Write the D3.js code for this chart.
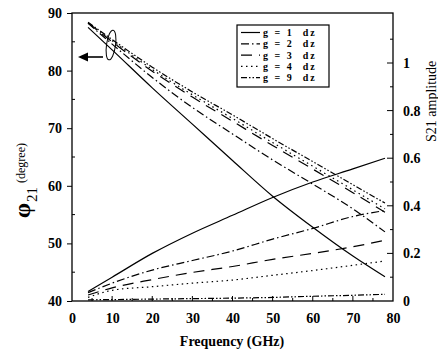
<!DOCTYPE html>
<html>
<head>
<meta charset="utf-8">
<script src="https://cdn.jsdelivr.net/npm/d3@7"></script>
<style>
  body { margin: 0; background: #fff; }
  svg { display: block; }
  text { font-family: "Liberation Serif", "Times New Roman", "DejaVu Serif", serif; fill: #000; }
</style>
</head>
<body>
<svg id="chart" width="438" height="354"></svg>
<script>
// Data.
const freq = [4, 10, 20, 30, 40, 50, 60, 70, 78];
const gapLabels = ["g = 1  dz", "g = 2  dz", "g = 3  dz", "g = 4  dz", "g = 9  dz"];

// Phase of S21 (left axis, degree).
const phaseG1 = [87.5, 83.6, 77.0, 70.7, 64.4, 58.2, 52.8, 47.8, 44.2];
const phaseG2 = [88.2, 84.6, 78.8, 73.6, 69.0, 64.5, 60.3, 56.0, 52.0];
const phaseG3 = [88.3, 85.0, 79.9, 75.4, 71.2, 67.0, 62.9, 58.8, 55.4];
const phaseG4 = [88.3, 85.2, 80.2, 75.8, 71.7, 67.5, 63.4, 59.3, 56.0];
const phaseG9 = [88.4, 85.4, 80.6, 76.3, 72.3, 68.2, 64.2, 60.2, 57.0];

// S21 amplitude (right axis).
const ampG1 = [0.04, 0.10, 0.20, 0.285, 0.36, 0.435, 0.50, 0.555, 0.60];
const ampG2 = [0.035, 0.075, 0.13, 0.17, 0.21, 0.26, 0.305, 0.355, 0.38];
const ampG3 = [0.025, 0.055, 0.09, 0.12, 0.145, 0.175, 0.20, 0.228, 0.255];
const ampG4 = [0.015, 0.045, 0.06, 0.075, 0.088, 0.108, 0.128, 0.15, 0.168];
const ampG9 = [0.005, 0.006, 0.008, 0.01, 0.012, 0.015, 0.02, 0.024, 0.028];

const xTicks = [0, 10, 20, 30, 40, 50, 60, 70, 80];
const phaseTicks = [40, 50, 60, 70, 80, 90];
const ampTicks = [0, 0.2, 0.4, 0.6, 0.8, 1];

// Line styles per gap.
const dashes = [null, "8,3,1.5,3", "11,7", "1.5,3.5", "6,2,1.5,2,1.5,2"];

document.addEventListener("DOMContentLoaded", () => {

    const svg = d3.select("#chart");
    const left = 72, right = 393, top = 13, bottom = 301;
    const serif = "Liberation Serif";

    const x = d3.scaleLinear().domain([0, 80]).range([left, right]);
    const yPhase = d3.scaleLinear().domain([40, 90]).range([bottom, top]);
    const yAmp = d3.scaleLinear().domain([0, 1]).range([bottom, 63]);

    const phases = [phaseG1, phaseG2, phaseG3, phaseG4, phaseG9];
    const amps = [ampG1, ampG2, ampG3, ampG4, ampG9];

    const phaseLine = d3.line()
        .x((d, i) => x(freq[i]))
        .y((d) => yPhase(d))
        .curve(d3.curveMonotoneX);
    const ampLine = d3.line()
        .x((d, i) => x(freq[i]))
        .y((d) => yAmp(d))
        .curve(d3.curveMonotoneX);

    // Frame.
    svg.append("rect")
        .attr("x", left).attr("y", top)
        .attr("width", right - left).attr("height", bottom - top)
        .attr("fill", "none").attr("stroke", "#000").attr("stroke-width", 1.3);

    // Bottom axis.
    const xAxis = svg.append("g").attr("transform", `translate(0,${bottom})`)
        .call(d3.axisBottom(x).tickValues(xTicks).tickSize(0).tickPadding(12).tickFormat(d3.format("d")));
    xAxis.attr("font-family", serif);
    xAxis.select(".domain").remove();
    xAxis.selectAll("text").attr("font-size", 14).attr("font-weight", "bold");
    svg.append("g").selectAll("line")
        .data(d3.range(5, 80, 5))
        .enter().append("line")
        .attr("x1", (d) => x(d)).attr("x2", (d) => x(d))
        .attr("y1", bottom).attr("y2", (d) => bottom - (d % 10 === 0 ? 5 : 3))
        .attr("stroke", "#000");

    // Left axis.
    const yAxisL = svg.append("g").attr("transform", `translate(${left},0)`)
        .call(d3.axisLeft(yPhase).tickValues(phaseTicks).tickSize(5).tickPadding(5));
    yAxisL.attr("font-family", serif);
    yAxisL.select(".domain").remove();
    yAxisL.selectAll("text").attr("font-size", 14).attr("font-weight", "bold");
    svg.append("g").selectAll("line")
        .data(d3.range(45, 90, 10))
        .enter().append("line")
        .attr("x1", left).attr("x2", left + 3)
        .attr("y1", (d) => yPhase(d)).attr("y2", (d) => yPhase(d))
        .attr("stroke", "#000");

    // Right axis.
    const yAxisR = svg.append("g").attr("transform", `translate(${right},0)`)
        .call(d3.axisRight(yAmp).tickValues(ampTicks).tickSize(0).tickPadding(10)
            .tickFormat((d) => d === 0 ? "0" : d === 1 ? "1" : d3.format(".1f")(d)));
    yAxisR.attr("font-family", serif);
    yAxisR.select(".domain").remove();
    yAxisR.selectAll("text").attr("font-size", 14).attr("font-weight", "bold");
    svg.append("g").selectAll("line")
        .data(d3.range(1, 12))
        .enter().append("line")
        .attr("x1", right).attr("x2", (d) => right - (d % 2 === 0 ? 6 : 3))
        .attr("y1", (d) => yAmp(d / 10)).attr("y2", (d) => yAmp(d / 10))
        .attr("stroke", "#000");

    // Curves.
    phases.forEach((p, i) => {
        svg.append("path")
            .datum(p)
            .attr("d", phaseLine)
            .attr("fill", "none")
            .attr("stroke", "#000")
            .attr("stroke-width", 1.2)
            .attr("stroke-dasharray", dashes[i]);
    });
    amps.forEach((a, i) => {
        svg.append("path")
            .datum(a)
            .attr("d", ampLine)
            .attr("fill", "none")
            .attr("stroke", "#000")
            .attr("stroke-width", 1.2)
            .attr("stroke-dasharray", dashes[i]);
    });

    // Ellipse around the phase curves, and the arrow to the left axis.
    svg.append("ellipse")
        .attr("cx", 111).attr("cy", 45).attr("rx", 4.5).attr("ry", 15)
        .attr("transform", "rotate(8,111,45)")
        .attr("fill", "none").attr("stroke", "#000").attr("stroke-width", 1);
    svg.append("line")
        .attr("x1", 103).attr("y1", 57).attr("x2", 86).attr("y2", 57)
        .attr("stroke", "#000").attr("stroke-width", 1.6);
    svg.append("path")
        .attr("d", "M78,57 L88,52.5 L88,61.5 Z")
        .attr("fill", "#000");

    // Legend.
    const legend = svg.append("g");
    legend.append("rect")
        .attr("x", 237).attr("y", 25).attr("width", 92).attr("height", 62)
        .attr("fill", "#fff").attr("stroke", "#000").attr("stroke-width", 1.2);
    gapLabels.forEach((label, i) => {
        const ly = 32.5 + i * 11.3;
        legend.append("line")
            .attr("x1", 241).attr("x2", 260)
            .attr("y1", ly).attr("y2", ly)
            .attr("stroke", "#000").attr("stroke-width", 1.2)
            .attr("stroke-dasharray", dashes[i]);
        legend.append("text")
            .attr("x", 263).attr("y", ly + 3.5)
            .attr("font-size", 10).attr("font-weight", "bold")
            .attr("letter-spacing", 2)
            .attr("xml:space", "preserve")
            .text(label);
    });

    // Axis titles.
    svg.append("text")
        .attr("x", 232).attr("y", 346)
        .attr("text-anchor", "middle")
        .attr("font-size", 14).attr("font-weight", "bold")
        .text("Frequency (GHz)");

    const yTitle = svg.append("text")
        .attr("transform", "translate(30,218) rotate(-90)");
    yTitle.append("tspan").attr("font-size", 24).attr("font-weight", "bold").text("φ");
    yTitle.append("tspan").attr("font-size", 15).attr("dy", 7).attr("dx", 1).text("21");
    yTitle.append("tspan").attr("font-size", 12).attr("dy", -12).attr("dx", 4).text("(degree)");

    svg.append("text")
        .attr("transform", "translate(436,142) rotate(-90)")
        .attr("font-size", 14)
        .text("S21 amplitude");
});
</script>
</body>
</html>
